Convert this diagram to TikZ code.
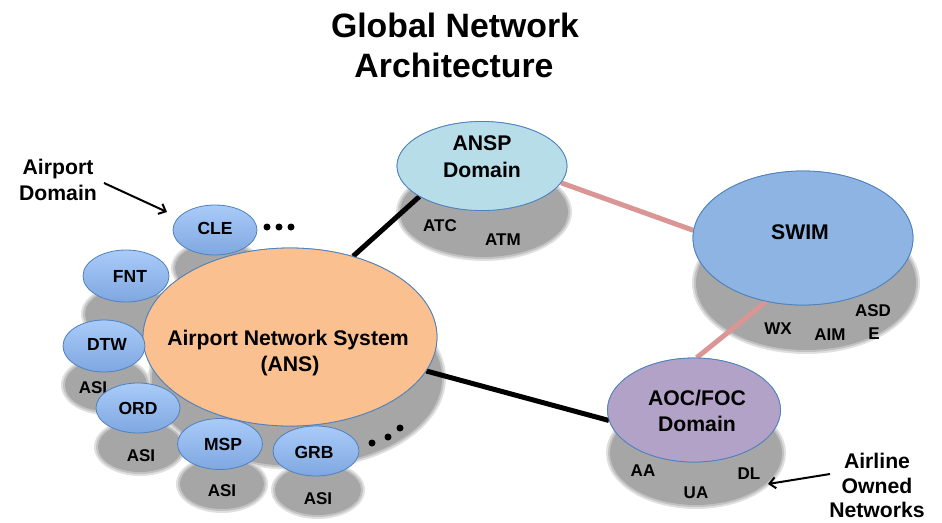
\documentclass[tikz,border=0pt]{standalone}
\usepackage{fontspec}
\setmainfont{Liberation Sans}
\usetikzlibrary{shapes.geometric,arrows.meta}
\definecolor{edgeblue}{HTML}{4F81BD}
\definecolor{ansfill}{HTML}{FAC090}
\definecolor{anspfill}{HTML}{B7DEE8}
\definecolor{swimfill}{HTML}{8DB4E2}
\definecolor{aocfill}{HTML}{B3A2C7}
\definecolor{nodetop}{HTML}{A9CBF9}
\definecolor{nodebot}{HTML}{7FA7E0}
\definecolor{pinkline}{HTML}{D99694}
\definecolor{shcore}{HTML}{A6A6A6}
\definecolor{shmid}{HTML}{C2C2C2}
\definecolor{shout}{HTML}{E0E0E0}
\begin{document}
\begin{tikzpicture}[x=1pt,y=-1pt,
  dom/.style={ellipse, draw=edgeblue, line width=0.8pt, inner sep=0pt},
  apt/.style={dom, top color=nodetop, bottom color=nodebot, minimum width=84pt, minimum height=50pt},
  big/.style={font=\bfseries\fontsize{21.2}{25}\selectfont, anchor=base, inner sep=0pt},
  small/.style={font=\bfseries\fontsize{17.5}{21}\selectfont, anchor=base, inner sep=0pt},
  shl/.style={font=\bfseries\fontsize{17}{20}\selectfont, anchor=base, inner sep=0pt},
  ttl/.style={font=\bfseries\fontsize{33.8}{40}\selectfont, anchor=base, inner sep=0pt},
  blk/.style={line width=5pt, black},
  pnk/.style={line width=5pt, pinkline},
  callout/.style={line width=2pt, -{Straight Barb[length=6pt,width=11pt]}},
  dotc/.style={circle, fill=black, inner sep=0pt, minimum size=7pt}
]
\useasboundingbox (0,0) rectangle (942,522);

% shadows (soft edges)
\def\shadlist{297/378/145/88, 217/268/42/25, 128/314/43/26, 106/385/41/26, 140/447/42/25, 222/484/42/25, 318/490/43/25, 484/212/84/45, 806/283/110/67, 696/453/86/52}
\foreach \cx/\cy/\ra/\rb in \shadlist {
  \fill[shout] (\cx,\cy) ellipse [x radius={\ra*1pt+4pt}, y radius={\rb*1pt+4pt}];
}
\foreach \cx/\cy/\ra/\rb in \shadlist {
  \fill[shmid] (\cx,\cy) ellipse [x radius={\ra*1pt+2pt}, y radius={\rb*1pt+2pt}];
}
\foreach \cx/\cy/\ra/\rb in \shadlist {
  \fill[shcore] (\cx,\cy) ellipse [x radius={\ra*1pt}, y radius={\rb*1pt}];
}

% shadow labels
\node[shl] (atc) at (440,231) {ATC};
\node[shl] (atm) at (503,245) {ATM};
\node[shl] (wx) at (778,334) {WX};
\node[shl] (aim) at (830,340) {AIM};
\node[shl] (asd) at (873,316) {ASD};
\node[shl] (asde) at (874,339) {E};
\node[shl] (aa) at (643,476) {AA};
\node[shl] (ua) at (696,498) {UA};
\node[shl] (dl) at (749,479) {DL};
\node[shl] (asi1) at (93,393) {ASI};
\node[shl] (asi2) at (141,461) {ASI};
\node[shl] (asi3) at (222,496) {ASI};
\node[shl] (asi4) at (318,504) {ASI};

% main domains (shapes only)
\node[dom, fill=ansfill, minimum width=294pt, minimum height=178pt] (ans) at (290,337) {};
\node[dom, fill=anspfill, minimum width=170pt, minimum height=89pt] (ansp) at (482,166) {};
\node[dom, fill=swimfill, minimum width=220pt, minimum height=134pt] (swim) at (803,238) {};
\node[dom, fill=aocfill, minimum width=173pt, minimum height=104pt] (aoc) at (694,410) {};

% connectors
\draw[blk] (ans.52.5) -- (ansp.206.6);
\draw[blk] (ans.-14) -- (aoc.187);
\draw[pnk] (ansp.-12) -- (swim.176);
\draw[pnk] (swim.-120.7) -- (aoc.87);

% redraw domain ellipses over connector ends
\node[dom, fill=ansfill, minimum width=294pt, minimum height=178pt] (ans2) at (290,337) {};
\node[dom, fill=anspfill, minimum width=170pt, minimum height=89pt] (ansp2) at (482,166) {};
\node[dom, fill=swimfill, minimum width=220pt, minimum height=134pt] (swim2) at (803,238) {};
\node[dom, fill=aocfill, minimum width=173pt, minimum height=104pt] (aoc2) at (694,410) {};

% airport nodes
\node[apt] (cle) at (215,230) {};
\node[apt, minimum width=86pt, minimum height=52pt] (fnt) at (126,276) {};
\node[apt, minimum width=82pt, minimum height=52pt] (dtw) at (104,346) {};
\node[apt] (ord) at (138,408) {};
\node[apt, minimum width=85pt, minimum height=51pt] (msp) at (220,444) {};
\node[apt, minimum width=86pt] (grb) at (316,451) {};

% texts in ellipses
\node[big] (ans-t1) at (288,345.5) {Airport Network System};
\node[big] (ans-t2) at (290,371.5) {(ANS)};
\node[big] (ansp-t1) at (482,150.5) {ANSP};
\node[big] (ansp-t2) at (482,177.5) {Domain};
\node[big] (swim-t) at (800,239.5) {SWIM};
\node[big] (aoc-t1) at (697,405.5) {AOC/FOC};
\node[big] (aoc-t2) at (697,431.5) {Domain};
\node[small] (cle-t) at (215,234.3) {CLE};
\node[small] (fnt-t) at (130,282.3) {FNT};
\node[small] (dtw-t) at (107,350.3) {DTW};
\node[small] (ord-t) at (138,414.3) {ORD};
\node[small] (msp-t) at (223,450.3) {MSP};
\node[small] (grb-t) at (314,458.3) {GRB};

% ellipsis dots
\node[dotc] (d1) at (267,227) {};
\node[dotc] (d2) at (279,227) {};
\node[dotc] (d3) at (291,227) {};
\node[dotc] (d4) at (372,443) {};
\node[dotc] (d5) at (388,437) {};
\node[dotc] (d6) at (400,428) {};

% title
\node[ttl] (title1) at (455,37) {Global Network};
\node[ttl] (title2) at (454,77) {Architecture};

% callouts
\node[big] (apd1) at (58,174.5) {Airport};
\node[big] (apd2) at (58,200.5) {Domain};
\coordinate (apd-s) at (104,183);
\coordinate (apd-e) at (167,212);
\draw[callout] (apd-s) -- (apd-e);

\node[big] (aon1) at (877,468) {Airline};
\node[big] (aon2) at (877,493) {Owned};
\node[big] (aon3) at (877,517.5) {Networks};
\coordinate (aon-s) at (830,474);
\coordinate (aon-e) at (768,484);
\draw[callout] (aon-s) -- (aon-e);
\end{tikzpicture}
\end{document}
